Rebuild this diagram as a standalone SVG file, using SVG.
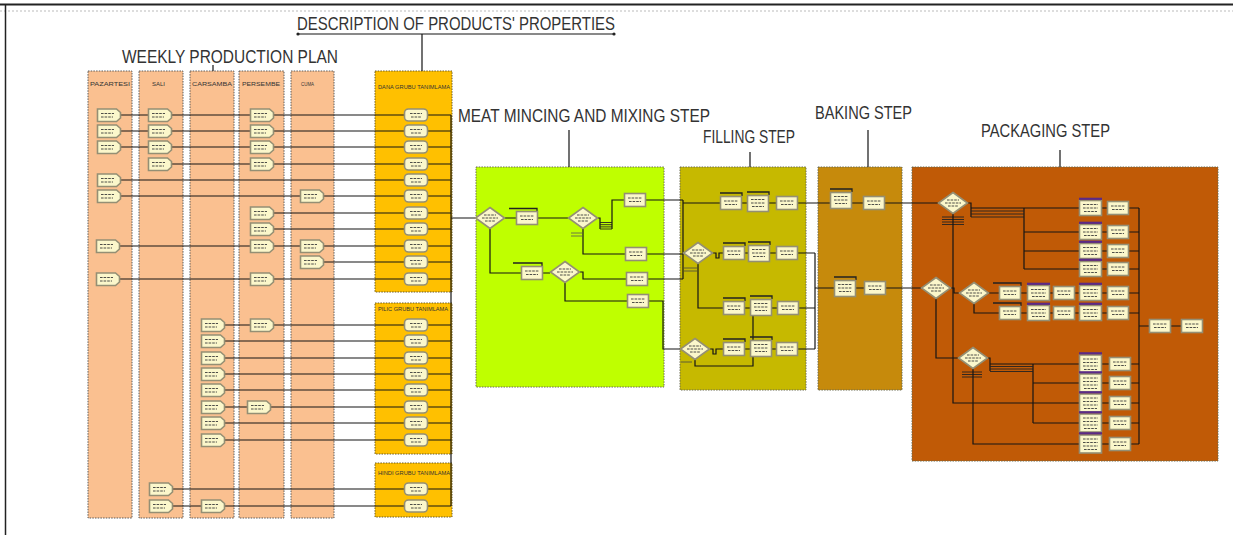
<svg xmlns="http://www.w3.org/2000/svg" xmlns:xlink="http://www.w3.org/1999/xlink" width="1233" height="535" viewBox="0 0 1233 535">
<style>
.col{fill:#FAC090;stroke:#5a5a5a;stroke-width:1;stroke-dasharray:1.5 1.2}
.grp{fill:#FFC000;stroke:#6a5a20;stroke-width:1;stroke-dasharray:1.5 1.2}
.stp{stroke:#6a6a50;stroke-width:1;stroke-dasharray:1.5 1.2}
.hd{font-family:"Liberation Sans",Arial,sans-serif;font-size:19px;fill:#333}
.sm{font-family:"Liberation Sans",Arial,sans-serif;font-size:6px;fill:#333}
.ln{fill:none;stroke:#151515;stroke-width:1.2}
.stk{fill:none;stroke:#222;stroke-width:0.9}
.qb{fill:none;stroke:#222;stroke-width:1.3}
.pu{fill:none;stroke:#5b2a86;stroke-width:2.2}
.nf{fill:#FBF7CB;stroke:#948f74;stroke-width:1.6}
.tx{fill:none;stroke:#3a3a3a;stroke-width:0.9;stroke-dasharray:2.6 1}
</style>
<defs>
<g id="cr"><path class="nf" d="M0.5,0.5H19.5L23.5,4V9.5L19.5,13H0.5Z"/><path class="tx" d="M4,5H17M4,8.5H16"/></g>
<g id="as"><rect class="nf" x="0.5" y="0.5" width="23" height="12" rx="4"/><path class="tx" d="M6,5H18M7,8.5H17"/></g>
<g id="pb"><rect class="nf" x="0.5" y="0.5" width="21" height="13"/><path class="tx" d="M4,5H18M5,8.5H17"/></g>
<g id="pbt"><rect class="nf" x="0.5" y="0.5" width="21" height="16"/><path class="tx" d="M4,4.5H18M4,8H18M5,11.5H17"/></g>
<g id="pq"><rect class="nf" x="0.5" y="0.5" width="22" height="15"/><path class="pu" d="M0,-1.2H23"/><path class="tx" d="M4,4.5H19M4,8H19M5,11.5H18"/></g>
<g id="pqt"><rect class="nf" x="0.5" y="0.5" width="22" height="18"/><path class="pu" d="M0,-1.2H23"/><path class="tx" d="M4,4.5H19M4,8H19M4,11.5H19M5,15H18"/></g>
<g id="dm"><polygon class="nf" points="15,0.5 29.5,11 15,21.5 0.5,11"/><path class="tx" d="M9,8H21M7,11H23M10,14H20"/></g>
</defs>

<g id="frame">
<path d="M0,4.5H1233" stroke="#222" stroke-width="2" fill="none"/>
<path d="M0,11H1233" stroke="#bbb" stroke-width="1" stroke-dasharray="2 2" fill="none"/>
<path d="M5.5,4.5V535" stroke="#222" stroke-width="1.5" fill="none"/>
</g>

<g id="backgrounds">
<rect id="col-pazartesi" class="col" x="88" y="71" width="44" height="447"/>
<rect id="col-sali" class="col" x="139" y="71" width="44" height="447"/>
<rect id="col-carsamba" class="col" x="190" y="71" width="44" height="447"/>
<rect id="col-persembe" class="col" x="239" y="71" width="45" height="447"/>
<rect id="col-cuma" class="col" x="291" y="71" width="43" height="447"/>
<rect id="box-dana" class="grp" x="375" y="71" width="77" height="221"/>
<rect id="box-pilic" class="grp" x="375" y="303" width="77" height="151"/>
<rect id="box-hindi" class="grp" x="375" y="463" width="77" height="54"/>
<rect id="box-meat" class="stp" x="476" y="167" width="188" height="220" fill="#BFFF00"/>
<rect id="box-filling" class="stp" x="680" y="167" width="126" height="223" fill="#C6B900"/>
<rect id="box-baking" class="stp" x="818" y="167" width="84" height="223" fill="#C68A0C"/>
<rect id="box-packaging" class="stp" x="912" y="167" width="306" height="294" fill="#C05A06"/>
</g>

<g id="titles">
<text class="hd" x="297" y="30" font-size="17" textLength="318" lengthAdjust="spacingAndGlyphs">DESCRIPTION OF PRODUCTS' PROPERTIES</text>
<text class="hd" x="122" y="63" textLength="216" lengthAdjust="spacingAndGlyphs">WEEKLY PRODUCTION PLAN</text>
<text class="hd" x="458" y="122" textLength="252" lengthAdjust="spacingAndGlyphs">MEAT MINCING AND MIXING STEP</text>
<text class="hd" x="703" y="143" textLength="92" lengthAdjust="spacingAndGlyphs">FILLING STEP</text>
<text class="hd" x="815" y="119" textLength="97" lengthAdjust="spacingAndGlyphs">BAKING STEP</text>
<text class="hd" x="981" y="137" textLength="129" lengthAdjust="spacingAndGlyphs">PACKAGING STEP</text>
<text class="sm" x="90" y="86" textLength="40" lengthAdjust="spacingAndGlyphs">PAZARTESI</text>
<text class="sm" x="152" y="86" textLength="13" lengthAdjust="spacingAndGlyphs">SALI</text>
<text class="sm" x="192" y="86" textLength="40" lengthAdjust="spacingAndGlyphs">CARSAMBA</text>
<text class="sm" x="242" y="86" textLength="38" lengthAdjust="spacingAndGlyphs">PERSEMBE</text>
<text class="sm" x="301" y="86" textLength="13" lengthAdjust="spacingAndGlyphs">CUMA</text>
<text class="sm" x="378" y="89" font-size="5" textLength="72" lengthAdjust="spacingAndGlyphs">DANA GRUBU TANIMLAMA</text>
<text class="sm" x="378" y="311" font-size="5" textLength="70" lengthAdjust="spacingAndGlyphs">PILIC GRUBU TANIMLAMA</text>
<text class="sm" x="378" y="475" font-size="5" textLength="72" lengthAdjust="spacingAndGlyphs">HINDI GRUBU TANIMLAMA</text>
</g>

<g id="connectors">
<path class="ln" d="M213,65V71"/>
<path class="ln" d="M298,34H614M422,34V71"/>
<circle cx="298" cy="34" r="1.6" fill="#222"/><circle cx="614" cy="34" r="1.6" fill="#222"/>
<path class="ln" d="M569,130V167M750,152V167M868,130V167M1060,150V167"/>
<!-- weekly rows -->
<path class="ln" d="M121,115H451M121,131H451M121,147H451M172,164H451M121,180H451M121,196H451M274,213H451M274,229H451M120,246H451M324,262H451M120,279H451"/>
<path class="ln" d="M225,325H451M225,341H451M225,358H451M225,374H451M225,390H451M225,407H451M225,423H451M225,440H451"/>
<path class="ln" d="M173,489H451M173,506H451"/>
<path class="ln" d="M451,115V506M451,218H475"/>
<!-- meat -->
<path class="ln" d="M505,218H516M538,218H568M598,218H600V229M612,229V200H624"/>
<path class="stk" d="M600,222.5H612M600,224.7H612M600,226.9H612M600,229H612"/>
<path class="ln" d="M583,229V254H625M646,200H683M647,254H683"/>
<path class="ln" d="M490,229V273H521M543,273H550M580,272H583V279H626M648,279H683"/>
<path class="ln" d="M565,283V301H627M649,301H663V349H680"/>
<path class="qb" d="M509,208.5H537V211M513,263H542V266"/>
<path d="M571,233H583M571,236H583" stroke="#555" stroke-width="0.8" fill="none"/>
<!-- filling -->
<path class="ln" d="M683,200V279M683,203H938"/>
<path class="ln" d="M713,253H716V258H719V253H815M698,264V308H815"/>
<path class="ln" d="M710,349H713V354H716V349H815M695,360V366H753V308"/>
<path class="ln" d="M815,253V349M815,288H921"/>
<path class="qb" d="M720,193H742V196M747,192H769V195M723,243H745V246M748,242H770V245M723,298H745V301M750,296H772V299M723,339H745V342M750,337H772V340"/>
<path d="M684,268H697M684,271H697M681,362H692" stroke="#444" stroke-width="0.8" fill="none"/>
<!-- baking -->
<path class="qb" d="M830,189H852V192M834,277H856V280"/>
<!-- packaging -->
<path class="ln" d="M968,203H971V217M971,208H1139M1024,208V269M1024,232H1139M1024,251H1139M1024,269H1139"/>
<path class="stk" d="M971,211H1024M971,214H1024M971,217H1024M942,217H964M942,219.5H964M942,222H964M942,224.5H964"/>
<path class="ln" d="M953,214V403H1139"/>
<path class="ln" d="M951,288H954V293H959M936,299V358H958M989,293H1139M974,304V313H1139"/>
<path class="ln" d="M988,358H990V371M990,364H1139M1033,364V423M1033,383H1139M1033,423H1139"/>
<path class="stk" d="M990,366.5H1033M990,369H1033M990,371.5H1033M962,372H982M962,374.5H982M962,377H982"/>
<path class="ln" d="M973,369V444H1139M1139,208V444M1139,326H1181"/>
<path class="qb" d="M993,283H1021V286M993,303H1021V306"/>
</g>

<g id="weekly-nodes">
<g id="n-paz-0"><use href="#cr" x="97" y="108.5"/></g>
<g id="n-paz-1"><use href="#cr" x="97" y="124.5"/></g>
<g id="n-paz-2"><use href="#cr" x="97" y="140.5"/></g>
<g id="n-paz-4"><use href="#cr" x="97" y="173.5"/></g>
<g id="n-paz-5"><use href="#cr" x="97" y="189.5"/></g>
<g id="n-paz-8"><use href="#cr" x="96" y="239.5"/></g>
<g id="n-paz-10"><use href="#cr" x="96" y="272.5"/></g>
<g id="n-sali-0"><use href="#cr" x="148" y="108.5"/></g>
<g id="n-sali-1"><use href="#cr" x="148" y="124.5"/></g>
<g id="n-sali-2"><use href="#cr" x="148" y="140.5"/></g>
<g id="n-sali-3"><use href="#cr" x="148" y="157.5"/></g>
<g id="n-pers-0"><use href="#cr" x="250" y="108.5"/></g>
<g id="n-pers-1"><use href="#cr" x="250" y="124.5"/></g>
<g id="n-pers-2"><use href="#cr" x="250" y="140.5"/></g>
<g id="n-pers-3"><use href="#cr" x="250" y="157.5"/></g>
<g id="n-pers-6"><use href="#cr" x="250" y="206.5"/></g>
<g id="n-pers-7"><use href="#cr" x="250" y="222.5"/></g>
<g id="n-pers-8"><use href="#cr" x="250" y="239.5"/></g>
<g id="n-pers-10"><use href="#cr" x="250" y="272.5"/></g>
<g id="n-cuma-5"><use href="#cr" x="300" y="189.5"/></g>
<g id="n-cuma-8"><use href="#cr" x="300" y="239.5"/></g>
<g id="n-cuma-9"><use href="#cr" x="300" y="255.5"/></g>
<g id="n-cars-p0"><use href="#cr" x="201" y="318.5"/></g>
<g id="n-cars-p1"><use href="#cr" x="201" y="334.5"/></g>
<g id="n-cars-p2"><use href="#cr" x="201" y="351.5"/></g>
<g id="n-cars-p3"><use href="#cr" x="201" y="367.5"/></g>
<g id="n-cars-p4"><use href="#cr" x="201" y="383.5"/></g>
<g id="n-cars-p5"><use href="#cr" x="201" y="400.5"/></g>
<g id="n-cars-p6"><use href="#cr" x="201" y="416.5"/></g>
<g id="n-cars-p7"><use href="#cr" x="201" y="433.5"/></g>
<g id="n-pers-p0"><use href="#cr" x="250" y="318.5"/></g>
<g id="n-pers-p5"><use href="#cr" x="247" y="400.5"/></g>
<g id="n-sali-h0"><use href="#cr" x="149" y="482.5"/></g>
<g id="n-sali-h1"><use href="#cr" x="149" y="499.5"/></g>
<g id="n-cars-h1"><use href="#cr" x="201" y="499.5"/></g>
</g>

<g id="group-nodes">
<g id="dana-0"><use href="#as" x="404" y="108.5"/></g>
<g id="dana-1"><use href="#as" x="404" y="124.5"/></g>
<g id="dana-2"><use href="#as" x="404" y="140.5"/></g>
<g id="dana-3"><use href="#as" x="404" y="157.5"/></g>
<g id="dana-4"><use href="#as" x="404" y="173.5"/></g>
<g id="dana-5"><use href="#as" x="404" y="189.5"/></g>
<g id="dana-6"><use href="#as" x="404" y="206.5"/></g>
<g id="dana-7"><use href="#as" x="404" y="222.5"/></g>
<g id="dana-8"><use href="#as" x="404" y="239.5"/></g>
<g id="dana-9"><use href="#as" x="404" y="255.5"/></g>
<g id="dana-10"><use href="#as" x="404" y="272.5"/></g>
<g id="pilic-0"><use href="#as" x="404" y="318.5"/></g>
<g id="pilic-1"><use href="#as" x="404" y="334.5"/></g>
<g id="pilic-2"><use href="#as" x="404" y="351.5"/></g>
<g id="pilic-3"><use href="#as" x="404" y="367.5"/></g>
<g id="pilic-4"><use href="#as" x="404" y="383.5"/></g>
<g id="pilic-5"><use href="#as" x="404" y="400.5"/></g>
<g id="pilic-6"><use href="#as" x="404" y="416.5"/></g>
<g id="pilic-7"><use href="#as" x="404" y="433.5"/></g>
<g id="hindi-0"><use href="#as" x="404" y="482.5"/></g>
<g id="hindi-1"><use href="#as" x="404" y="499.5"/></g>
</g>

<g id="meat-nodes">
<g id="m-d1"><use href="#dm" x="475" y="207"/></g>
<g id="m-b1"><use href="#pb" x="516" y="211"/></g>
<g id="m-d2"><use href="#dm" x="568" y="207"/></g>
<g id="m-b3"><use href="#pb" x="624" y="193"/></g>
<g id="m-b4"><use href="#pb" x="625" y="247"/></g>
<g id="m-b5"><use href="#pb" x="521" y="266"/></g>
<g id="m-d3"><use href="#dm" x="550" y="261"/></g>
<g id="m-b6"><use href="#pb" x="626" y="272"/></g>
<g id="m-b7"><use href="#pb" x="627" y="294"/></g>
</g>

<g id="filling-nodes">
<g id="f-a"><use href="#pb" x="720" y="196"/></g>
<g id="f-b"><use href="#pbt" x="747" y="195"/></g>
<g id="f-c"><use href="#pb" x="776" y="196"/></g>
<g id="f-d1"><use href="#dm" x="683" y="242"/></g>
<g id="f-g"><use href="#pb" x="723" y="246"/></g>
<g id="f-h"><use href="#pbt" x="748" y="245"/></g>
<g id="f-i"><use href="#pb" x="776" y="246"/></g>
<g id="f-j"><use href="#pb" x="723" y="301"/></g>
<g id="f-k"><use href="#pbt" x="750" y="299"/></g>
<g id="f-l"><use href="#pb" x="777" y="301"/></g>
<g id="f-d2"><use href="#dm" x="680" y="338"/></g>
<g id="f-m"><use href="#pb" x="723" y="342"/></g>
<g id="f-n"><use href="#pbt" x="750" y="340"/></g>
<g id="f-o"><use href="#pb" x="776" y="342"/></g>
</g>

<g id="baking-nodes">
<g id="b-d"><use href="#pbt" x="830" y="192"/></g>
<g id="b-e"><use href="#pb" x="863" y="196"/></g>
<g id="b-q"><use href="#pbt" x="834" y="280"/></g>
<g id="b-r"><use href="#pb" x="864" y="281"/></g>
</g>

<g id="packaging-nodes">
<g id="p-d1"><use href="#dm" x="938" y="192"/></g>
<g id="p-d2"><use href="#dm" x="921" y="277"/></g>
<g id="p-d3"><use href="#dm" x="959" y="282"/></g>
<g id="p-d4"><use href="#dm" x="958" y="347"/></g>
<g id="p-a1"><use href="#pq" x="1079" y="200"/></g>
<g id="p-a2"><use href="#pb" x="1107" y="201"/></g>
<g id="p-b1"><use href="#pq" x="1079" y="224"/></g>
<g id="p-b2"><use href="#pb" x="1107" y="225"/></g>
<g id="p-c1"><use href="#pq" x="1079" y="243"/></g>
<g id="p-c2"><use href="#pb" x="1107" y="244"/></g>
<g id="p-d1b"><use href="#pq" x="1079" y="261"/></g>
<g id="p-d2b"><use href="#pb" x="1107" y="262"/></g>
<g id="p-e1"><use href="#pb" x="999" y="286"/></g>
<g id="p-e2"><use href="#pq" x="1027" y="285"/></g>
<g id="p-e3"><use href="#pb" x="1053" y="286"/></g>
<g id="p-e4"><use href="#pq" x="1079" y="285"/></g>
<g id="p-e5"><use href="#pb" x="1107" y="286"/></g>
<g id="p-f1"><use href="#pb" x="999" y="306"/></g>
<g id="p-f2"><use href="#pq" x="1027" y="305"/></g>
<g id="p-f3"><use href="#pb" x="1053" y="306"/></g>
<g id="p-f4"><use href="#pq" x="1079" y="305"/></g>
<g id="p-f5"><use href="#pb" x="1107" y="306"/></g>
<g id="p-i1"><use href="#pqt" x="1079" y="354.5"/></g>
<g id="p-i2"><use href="#pb" x="1109" y="357"/></g>
<g id="p-j1"><use href="#pqt" x="1079" y="373.5"/></g>
<g id="p-j2"><use href="#pb" x="1109" y="376"/></g>
<g id="p-k1"><use href="#pqt" x="1079" y="393.5"/></g>
<g id="p-k2"><use href="#pb" x="1109" y="396"/></g>
<g id="p-l1"><use href="#pqt" x="1079" y="413.5"/></g>
<g id="p-l2"><use href="#pb" x="1109" y="416"/></g>
<g id="p-m1"><use href="#pqt" x="1079" y="434.5"/></g>
<g id="p-m2"><use href="#pb" x="1109" y="437"/></g>
<g id="p-g1"><use href="#pb" x="1149" y="319"/></g>
<g id="p-g2"><use href="#pb" x="1181" y="319"/></g>
</g>
</svg>
